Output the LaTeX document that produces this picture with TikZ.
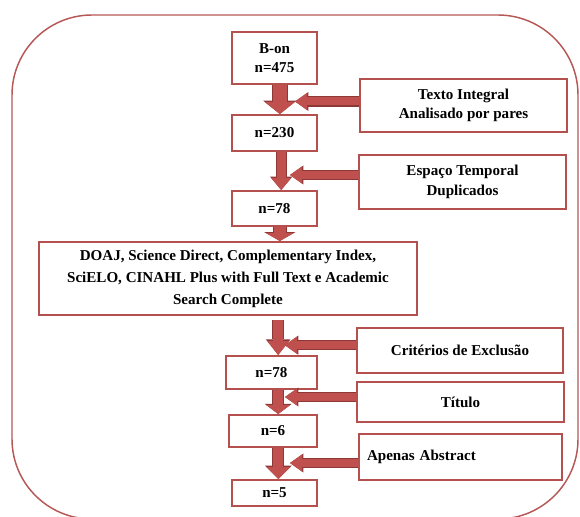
\documentclass[tikz,border=0pt]{standalone}
\usepackage{fontspec}
\setmainfont{Liberation Serif}
\usetikzlibrary{arrows.meta}

\definecolor{boxred}{RGB}{180,80,78}
\definecolor{framered}{RGB}{182,88,85}
\definecolor{arrowred}{RGB}{192,80,77}
\definecolor{arrowdark}{RGB}{140,56,54}

\begin{document}
\begin{tikzpicture}[
    x=0.75pt, y=-0.75pt,
    box/.style={rectangle, draw=boxred, line width=1.5pt, fill=white, inner sep=0pt,
        align=center, font=\fontsize{11.3}{14.5}\selectfont\bfseries},
    boxsize/.style 2 args={minimum width=#1, minimum height=#2},
    flow/.style n args={3}{draw=arrowred, line width=#1,
        -{Triangle[length=#3, width=#2, line width=0pt]},
        preaction={draw=arrowdark, line width=#1+1.6pt,
            -{Triangle[length=#3, width=#2, scale=1.12, line width=0pt]}}},
    hflow/.style={flow={6pt}{12.75pt}{9pt}}
]
\useasboundingbox (0,0) rectangle (580,516);

% Frame
\draw[framered, line width=1.1pt, rounded corners=60pt] (12,15) rectangle (578,519);

% Main column
\node[box, boxsize={63.75pt}{39pt}] (bon) at (274.5,58) {B-on\\n=475};
\node[box, boxsize={63.75pt}{27pt}] (n230) at (274.5,133) {n=230};
\node[box, boxsize={63.75pt}{26.25pt}] (n78a) at (274.5,208.5) {n=78};
\node[box, boxsize={283.5pt}{54.75pt}, font=\fontsize{11.3}{16.5}\selectfont\bfseries]
    (doaj) at (228,278.5)
    {DOAJ, Science Direct, Complementary Index,\\SciELO, CINAHL Plus with Full Text e Academic\\Search Complete};
\node[box, boxsize={68.25pt}{24.75pt}] (n78b) at (271.5,372.5) {n=78};
\node[box, boxsize={66pt}{24pt}] (n6) at (273,431) {n=6};
\node[box, boxsize={63.75pt}{19.5pt}] (n5) at (274.5,493) {n=5};

% Criteria
\node[box, boxsize={155.25pt}{39.75pt}] (texto) at (463.5,105.5) {Texto Integral\\Analisado por pares};
\node[box, boxsize={155.25pt}{40.5pt}] (espaco) at (462.5,182) {Espaço Temporal\\Duplicados};
\node[box, boxsize={154.5pt}{33.75pt}] (crit) at (460,350.5) {Critérios de Exclusão};
\node[box, boxsize={155.25pt}{30pt}] (titulo) at (460.5,402) {Título};
\node[box, minimum height=34.5pt, inner xsep=6pt, text width=140.25pt, align=left]
    (apenas) at (460.5,457) {Apenas Abstract};

% Down arrows
\draw[flow={10.5pt}{22.5pt}{9pt}] ([xshift=4pt]bon.south) -- ([xshift=4pt]n230.north);
\draw[flow={6.75pt}{15pt}{9pt}] ([xshift=5pt]n230.south) -- ([xshift=5pt]n78a.north);
\draw[flow={9pt}{21pt}{6pt}] ([xshift=4pt]n78a.south) -- ([xshift=4pt]n78a.south |- doaj.north);
\draw[flow={7.5pt}{16.5pt}{10.5pt}] ([xshift=5pt,yshift=-3pt]n78b.north |- doaj.south) -- ([xshift=5pt]n78b.north);
\draw[flow={7.5pt}{18pt}{6.75pt}] ([xshift=5pt]n78b.south) -- ([xshift=5pt]n78b.south |- n6.north);
\draw[flow={7.5pt}{18pt}{9pt}] ([xshift=4pt]n6.south) -- ([xshift=4pt]n6.south |- n5.north);

% Side arrows
\draw[hflow] ([yshift=3pt]texto.west) -- ([xshift=15.4pt,yshift=3pt]texto.west -| n230.center);
\draw[hflow] ([yshift=5.25pt]espaco.west) -- ([xshift=11.6pt,yshift=5.25pt]espaco.west -| n230.center);
\draw[hflow] ([yshift=4pt]crit.west) -- ([xshift=10pt,yshift=4pt]crit.west -| n78b.center);
\draw[hflow] ([yshift=3.75pt]titulo.west) -- ([xshift=9pt,yshift=3.75pt]titulo.west -| n6.center);
\draw[hflow] ([yshift=-4.5pt]apenas.west) -- ([xshift=12.75pt,yshift=-4.5pt]apenas.west -| n6.center);

\end{tikzpicture}
\end{document}
